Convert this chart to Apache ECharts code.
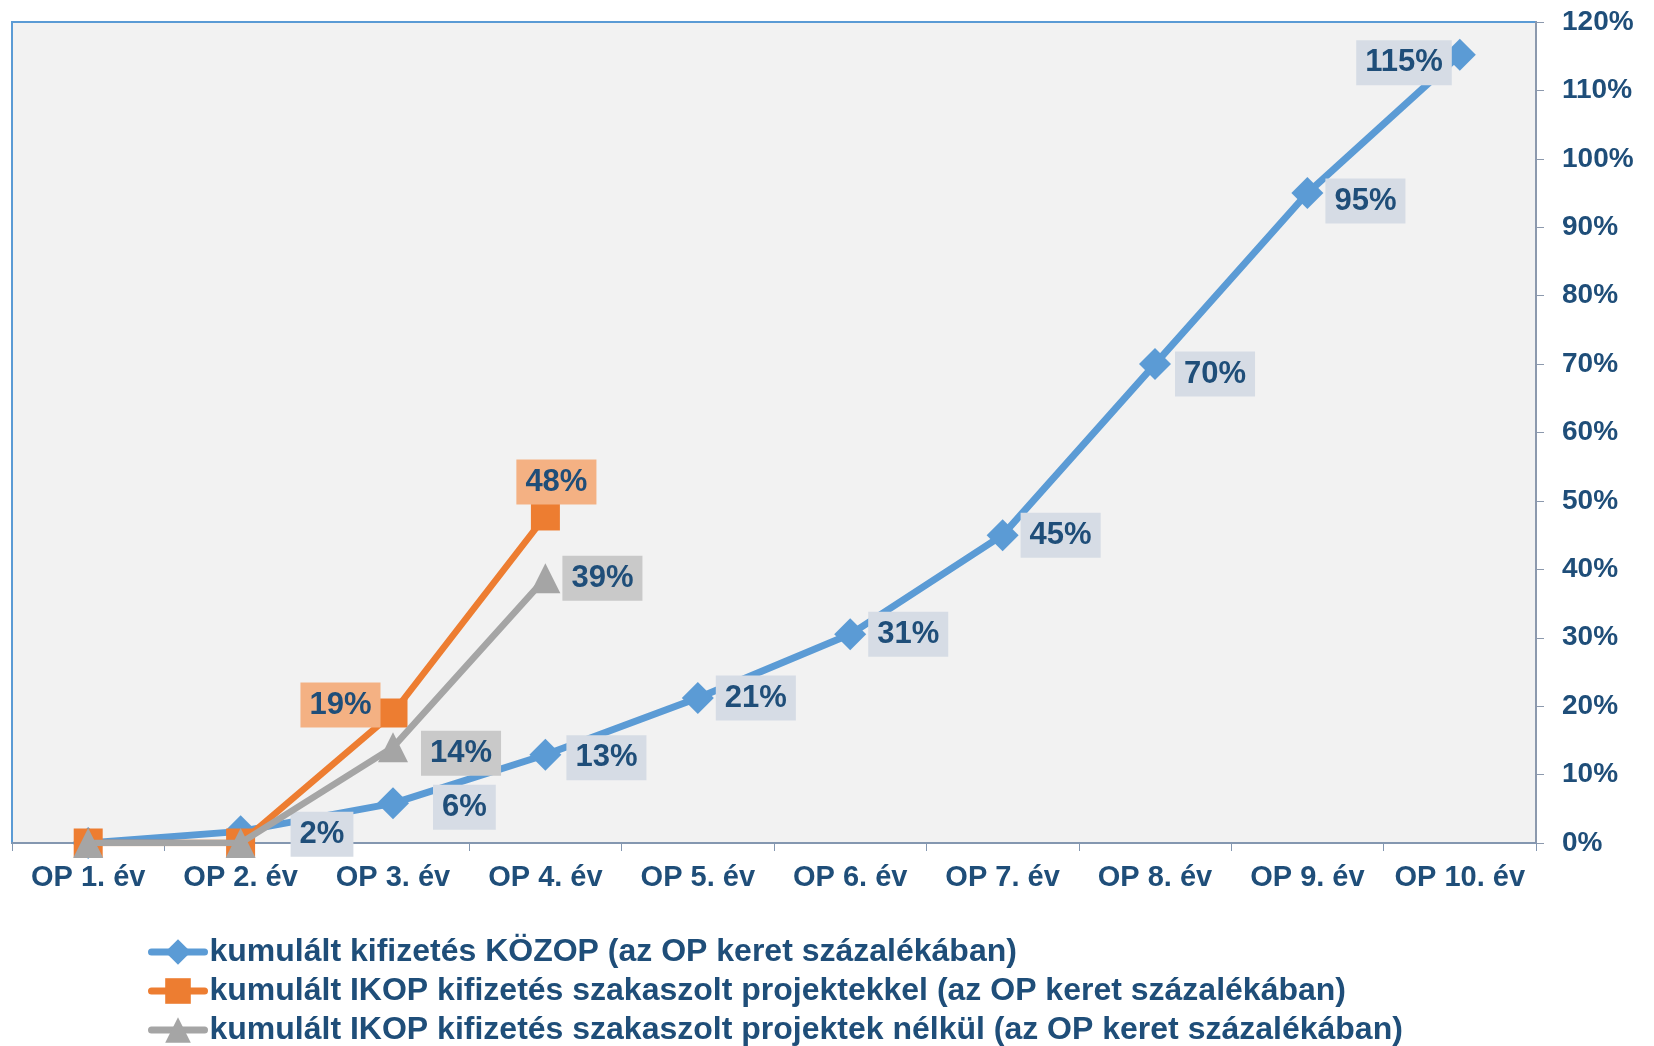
<!DOCTYPE html>
<html>
<head>
<meta charset="utf-8">
<script src="https://cdn.jsdelivr.net/npm/echarts@6/dist/echarts.min.js"></script>
<style>
  html, body { margin: 0; padding: 0; background: #fff; }
  #chart { width: 1654px; height: 1046px; }
</style>
</head>
<body>
<div id="chart"></div>
<script>
// kategóriák
const categories = ['OP 1. év', 'OP 2. év', 'OP 3. év', 'OP 4. év', 'OP 5. év',
  'OP 6. év', 'OP 7. év', 'OP 8. év', 'OP 9. év', 'OP 10. év'];
// kumulált kifizetés KÖZOP (%)
const kozop = [0, 1.7, 5.8, 12.9, 21.2, 30.5, 45, 70, 95, 115.2];
// IKOP szakaszolt projektekkel (%)
const ikopWith = [0, 0, 19, 47.8];
// IKOP szakaszolt projektek nélkül (%)
const ikopWithout = [0, 0, 14, 38.7];

const seriesNames = [
  'kumulált kifizetés KÖZOP (az OP keret százalékában)',
  'kumulált IKOP kifizetés szakaszolt projektekkel (az OP keret százalékában)',
  'kumulált IKOP kifizetés szakaszolt projektek nélkül (az OP keret százalékában)'
];

const FONT = '"Liberation Sans", Arial, sans-serif';
const NAVY = '#1f4e79';

// címke pozíciók / eltolások pontonként (alapértelmezett: jobbra)
const posKozop = {9: 'left'};
const offKozop = {1: [32, 3], 2: [22, 4], 3: [3, 3], 7: [2, 10], 8: [0, 8], 9: [10, 8]};
const posWith = {2: 'left', 3: 'top'};
const offWith = {2: [2, -8], 3: [11, 3]};
const offWithout = {2: [11, 6]};

function buildData(values, bg, positions, offsets) {
  return values.map((v, i) => ({
    value: v,
    label: {
      show: v > 0,
      position: positions[i] || 'right',
      offset: offsets[i] || [0, 0],
      backgroundColor: bg
    }
  }));
}

const labelBase = {
  show: true,
  formatter: p => Math.round(p.value) + '%',
  color: NAVY,
  fontFamily: FONT,
  fontWeight: 'bold',
  fontSize: 31,
  padding: [7, 9, 7, 9],
  distance: 2
};

let option = () => {
  return {
    backgroundColor: '#fff',
    animation: false,
    textStyle: {fontFamily: FONT},
    grid: {
      left: 12,
      top: 22,
      right: 118,
      bottom: 203,
      show: true,
      backgroundColor: '#f2f2f2',
      borderColor: '#5b9bd5',
      borderWidth: 2
    },
    legend: {
      orient: 'vertical',
      left: 148,
      top: 936,
      padding: 0,
      itemWidth: 53,
      itemHeight: 32,
      itemGap: 7,
      data: seriesNames,
      lineStyle: {width: 7, cap: 'round'},
      textStyle: {
        color: NAVY,
        fontFamily: FONT,
        fontWeight: 'bold',
        fontSize: 32,
        lineHeight: 32
      }
    },
    xAxis: {
      type: 'category',
      boundaryGap: true,
      data: categories,
      axisLine: {lineStyle: {color: '#8497b0', width: 2}},
      axisTick: {show: true, length: 8, lineStyle: {color: '#8497b0', width: 1}},
      axisLabel: {
        color: NAVY,
        fontFamily: FONT,
        fontWeight: 'bold',
        fontSize: 29,
        margin: 20,
        interval: 0
      },
      splitLine: {show: false}
    },
    yAxis: {
      type: 'value',
      position: 'right',
      min: 0,
      max: 120,
      interval: 10,
      axisLine: {show: true, lineStyle: {color: '#8c99ad', width: 2}},
      axisTick: {show: true, length: 8, lineStyle: {color: '#8c99ad'}},
      axisLabel: {
        formatter: '{value}%',
        color: NAVY,
        fontFamily: FONT,
        fontWeight: 'bold',
        fontSize: 28,
        margin: 26
      },
      splitLine: {show: false}
    },
    series: [
      {
        name: seriesNames[0],
        type: 'line',
        data: buildData(kozop, '#d6dce5', posKozop, offKozop),
        symbol: 'diamond',
        symbolSize: 32,
        color: '#5b9bd5',
        lineStyle: {width: 7, color: '#5b9bd5'},
        label: labelBase,
        z: 2
      },
      {
        name: seriesNames[1],
        type: 'line',
        data: buildData(ikopWith, '#f4b183', posWith, offWith),
        symbol: 'rect',
        symbolSize: 29,
        color: '#ed7d31',
        lineStyle: {width: 6.5, color: '#ed7d31'},
        label: Object.assign({}, labelBase, {distance: 0}),
        z: 3
      },
      {
        name: seriesNames[2],
        type: 'line',
        data: buildData(ikopWithout, '#c9c9c9', {}, offWithout),
        symbol: 'triangle',
        symbolSize: 30,
        color: '#a5a5a5',
        lineStyle: {width: 6.5, color: '#a5a5a5'},
        label: labelBase,
        z: 4
      }
    ]
  };
};

// inicializálás
const chart = echarts.init(document.getElementById('chart'));
chart.setOption(option());
</script>
</body>
</html>
